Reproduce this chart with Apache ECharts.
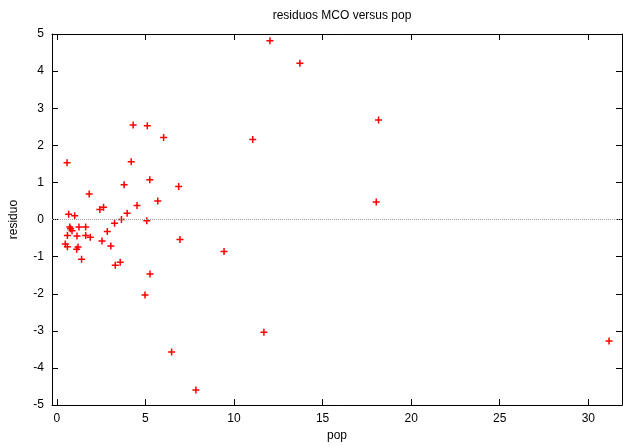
<!DOCTYPE html>
<html>
<head>
<meta charset="utf-8">
<script src="https://cdn.jsdelivr.net/npm/echarts@6/dist/echarts.min.js"></script>
<style>
html,body{margin:0;padding:0;background:#fff;}
#c{width:623px;height:447px;}
</style>
</head>
<body>
<div id="c"></div>
<script>
const popValues = [0.58,4.31,5.11,6.03,4.20,3.80,5.25,6.88,1.83,5.70,4.53,2.43,2.64,3.97,0.67,1.01,3.65,5.08,3.26,0.73,0.78,0.86,1.25,1.63,2.85,0.60,1.14,1.63,1.89,2.55,0.48,0.60,1.20,1.12,3.05,1.40,3.30,3.58,5.26,4.98,6.95,9.44,6.48,7.85,12.03,13.72,18.16,11.06,18.03,11.69,31.17];
const residuoValues = [1.53,2.55,2.53,2.21,1.56,0.94,1.07,0.89,0.69,0.50,0.38,0.27,0.33,0.17,0.14,0.10,0.00,-0.03,-0.10,-0.20,-0.25,-0.30,-0.20,-0.20,-0.32,-0.43,-0.44,-0.43,-0.48,-0.58,-0.66,-0.73,-0.74,-0.80,-0.71,-1.07,-1.23,-1.15,-1.47,-2.03,-0.54,-0.86,-3.57,-4.59,4.82,4.21,2.68,2.16,0.47,-3.04,-3.27];
const xTicks = [0,5,10,15,20,25,30];
const titleText = 'residuos MCO versus pop';
const xName = 'pop';
const yName = 'residuo';

const data = popValues.map((x,i)=>[x, residuoValues[i]]);
const font = 'Liberation Sans, Arial, sans-serif';
const chart = echarts.init(document.getElementById('c'), null, {renderer:'canvas'});
const tickStyle = {show:true, inside:true, length:6, lineStyle:{color:'#000', width:1}};
const xBase = {type:'value', min:-0.27, max:31.9, splitLine:{show:false},
  axisLine:{show:true, onZero:false, lineStyle:{color:'#000', width:1}}};
const yBase = {type:'value', min:-5, max:5, interval:1, splitLine:{show:false},
  axisLine:{show:true, onZero:false, lineStyle:{color:'#000', width:1}}};
chart.setOption({
  animation:false,
  backgroundColor:'#fff',
  title:{text:titleText, left:337, textAlign:'center', top:5,
    textStyle:{fontFamily:font, fontSize:12, fontWeight:'normal', color:'#000'}},
  grid:{left:51, right:1, top:34, height:375, containLabel:false},
  xAxis:[
    Object.assign({}, xBase, {position:'bottom', name:xName, nameLocation:'middle', nameGap:22,
      nameTextStyle:{fontFamily:font, fontSize:12, color:'#000'},
      axisTick:Object.assign({customValues:xTicks}, tickStyle),
      axisLabel:{customValues:xTicks, margin:8, fontFamily:font, fontSize:12, color:'#000'}}),
    Object.assign({}, xBase, {position:'top',
      axisTick:Object.assign({customValues:xTicks}, tickStyle),
      axisLabel:{show:false}})
  ],
  yAxis:[
    Object.assign({}, yBase, {position:'left', name:yName, nameLocation:'middle', nameGap:32,
      nameTextStyle:{fontFamily:font, fontSize:12, color:'#000'},
      axisTick:tickStyle,
      axisLabel:{margin:8, fontFamily:font, fontSize:12, color:'#000'}}),
    Object.assign({}, yBase, {position:'right', axisTick:tickStyle, axisLabel:{show:false}})
  ],
  series:[{
    type:'scatter', xAxisIndex:0, yAxisIndex:0, data:data,
    symbol:'path://M3.5,0V7M0,3.5H7', symbolSize:7,
    itemStyle:{color:'rgba(0,0,0,0)', borderColor:'#ff0000', borderWidth:1.5, opacity:1},
    emphasis:{disabled:true},
    markLine:{silent:true, symbol:'none', label:{show:false},
      lineStyle:{color:'#a0a0a0', type:[1,1], width:1},
      data:[{yAxis:0}]}
  }]
});
</script>
</body>
</html>
